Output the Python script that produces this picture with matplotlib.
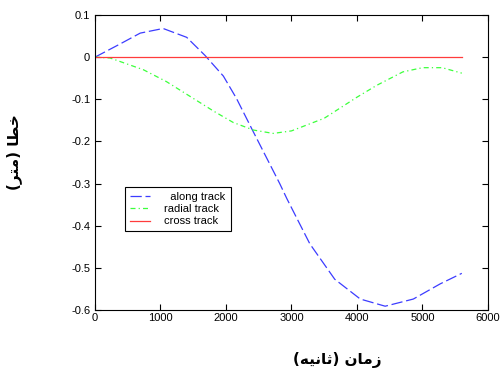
import matplotlib
matplotlib.use("Agg")
import matplotlib.pyplot as plt

# values
along_t = [0, 380, 690, 1040, 1400, 1680, 1960, 2160, 2400, 2820, 2930,
           3280, 3660, 4050, 4430, 4860, 5270, 5600]
along_err = [0, 0.031, 0.057, 0.068, 0.047, 0.004, -0.045, -0.098, -0.172,
             -0.30, -0.336, -0.443, -0.527, -0.574, -0.591, -0.574, -0.538,
             -0.513]

radial_t = [0, 230, 740, 1090, 1450, 1810, 2110, 2420, 2720, 3000, 3500,
            4000, 4300, 4700, 5000, 5300, 5600]
radial_err = [0, -0.002, -0.03, -0.058, -0.093, -0.128, -0.155, -0.173,
              -0.181, -0.175, -0.145, -0.095, -0.067, -0.035, -0.025, -0.025,
              -0.038]

cross_t = [0, 5600]
cross_err = [0, 0]

x_ticks = [0, 1000, 2000, 3000, 4000, 5000, 6000]
y_ticks = [-0.6, -0.5, -0.4, -0.3, -0.2, -0.1, 0, 0.1]
y_tick_labels = ["-0.6", "-0.5", "-0.4", "-0.3", "-0.2", "-0.1", "0", "0.1"]

# Persian labels, written in shaped presentation forms in visual order
# x label: "زمان (ثانیه)"
x_label = ("(\uFEEA\uFEF4\uFEE7\uFE8E\uFE9B)"
           " \uFEE5\uFE8E\uFEE3\uFEAF")
# y label: "خطا (متر)"
y_label = ("(\uFEAE\uFE98\uFEE3)"
           " \uFE8E\uFEC4\uFEA7")

plt.rcParams["font.family"] = ["Liberation Sans", "DejaVu Sans"]

fig = plt.figure(figsize=(5.02, 3.76), dpi=100)
ax = fig.add_axes([95 / 502, 66 / 376, 393 / 502, 295 / 376])

ax.plot(along_t, along_err, color="#3c3cff", lw=0.9, dashes=(9, 3),
        label="  along track")
ax.plot(radial_t, radial_err, color="#3cff3c", lw=0.9, dashes=(4, 2.5, 1, 2.5),
        label="radial track")
ax.plot(cross_t, cross_err, color="#ff3c3c", lw=0.9, label="cross track")

ax.set_xlim(0, 6000)
ax.set_ylim(-0.6, 0.1)
ax.set_xticks(x_ticks)
ax.set_yticks(y_ticks)
ax.set_yticklabels(y_tick_labels)
ax.tick_params(direction="in", length=4, width=0.8, labelsize=8,
               top=True, right=True, labeltop=False, labelright=False)
ax.tick_params(axis="x", pad=2.5)
ax.tick_params(axis="y", pad=3.5)
for s in ax.spines.values():
    s.set_linewidth(0.8)

leg = ax.legend(loc="upper left", bbox_to_anchor=(125 / 502, 1 - 187 / 376),
                bbox_transform=fig.transFigure, fontsize=8, frameon=True,
                fancybox=False, edgecolor="black", framealpha=1,
                handlelength=1.8, handletextpad=1.3, borderpad=0.45,
                labelspacing=0.2, borderaxespad=0)
leg.get_frame().set_linewidth(0.8)

fig.text(337 / 502, 1 - 360 / 376, x_label, ha="center", va="center",
         fontsize=11, fontweight="bold", family="DejaVu Sans")
fig.text(14 / 502, 1 - 152 / 376, y_label, ha="center", va="center",
         rotation=90, fontsize=11, fontweight="bold", family="DejaVu Sans")

fig.savefig("out.png", dpi=100)
plt.close(fig)
